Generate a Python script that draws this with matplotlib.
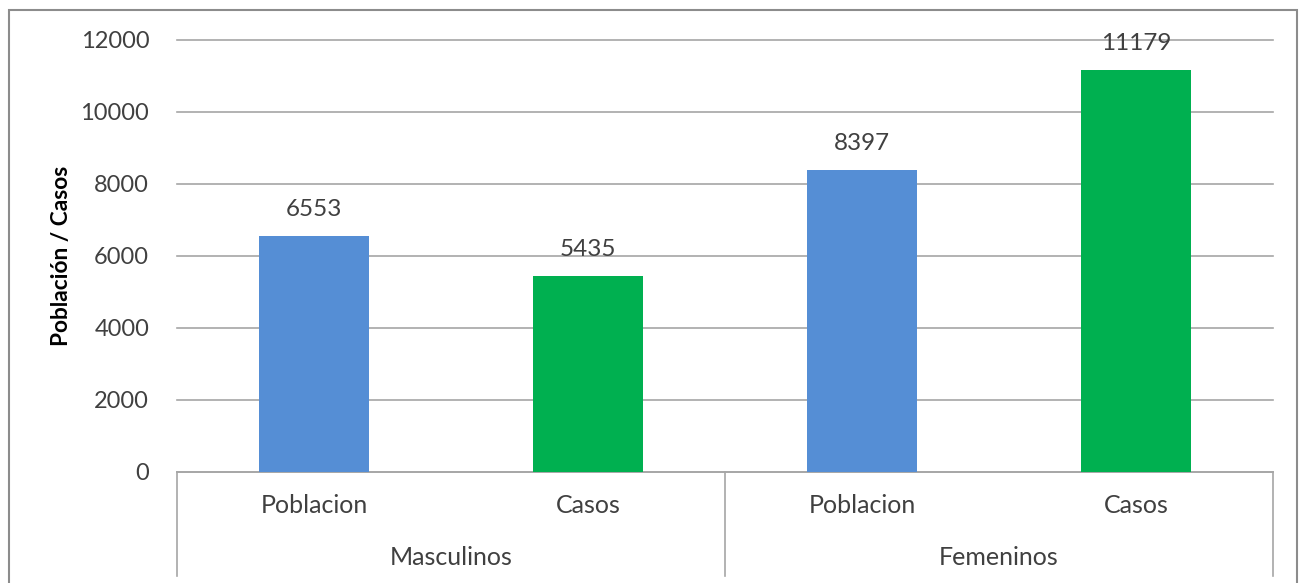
import matplotlib.pyplot as plt
from matplotlib.patches import Rectangle

# Datos
grupos = ['Masculinos', 'Femeninos']
categorias = ['Poblacion', 'Casos', 'Poblacion', 'Casos']
valores = [6553, 5435, 8397, 11179]
colores = ['#558ED5', '#00B050', '#558ED5', '#00B050']
yticks = [0, 2000, 4000, 6000, 8000, 10000, 12000]

plt.rcParams['font.family'] = ['Lato', 'DejaVu Sans']

fig = plt.figure(figsize=(12.99, 5.83), dpi=100)
ax = fig.add_axes([177 / 1299, 1 - 472 / 583, (1273 - 177) / 1299, 432 / 583])

x = list(range(len(valores)))
ax.bar(x, valores, width=0.405, color=colores, zorder=3)
for xi, v in zip(x, valores):
    ax.annotate(str(v), (xi, v), xytext=(0, 19), textcoords='offset points',
                ha='center', va='center', fontsize=17.5, color='#404040')

ax.set_xlim(-0.5, len(valores) - 0.5)
ax.set_ylim(0, 12000)
ax.set_yticks(yticks)
ax.set_yticklabels([str(t) for t in yticks], fontsize=17, color='#404040')
ax.yaxis.grid(True, color='#A6A6A6', linewidth=1.2, zorder=0)
for gl in ax.get_ygridlines():
    gl.set_clip_on(False)
ax.tick_params(axis='y', length=0, pad=20)
ax.tick_params(axis='x', length=0)
ax.set_xticks([])
for s in ['top', 'right', 'left']:
    ax.spines[s].set_visible(False)
ax.spines['bottom'].set_color('#A6A6A6')
ax.spines['bottom'].set_linewidth(1.2)

ax.set_ylabel('Población / Casos', fontsize=16.3, fontweight='bold', labelpad=6)

# Etiquetas de categoría
for xi, c in zip(x, categorias):
    ax.text(xi, -0.078, c, transform=ax.get_xaxis_transform(), ha='center', va='center',
            fontsize=18, color='#404040')
for i, g in enumerate(grupos):
    ax.text(2 * i + 0.5, -0.198, g, transform=ax.get_xaxis_transform(), ha='center',
            va='center', fontsize=18, color='#404040')
for xs in [-0.5, 1.5, 3.5]:
    ax.plot([xs, xs], [0, -0.24], transform=ax.get_xaxis_transform(), color='#A6A6A6',
            linewidth=1.2, clip_on=False)

# Borde exterior
fig.patches.append(Rectangle((9 / 1299, -0.05), 1288 / 1299, 1.05 - 10 / 583,
                             transform=fig.transFigure, fill=False,
                             edgecolor='#8C8C8C', linewidth=1.5))

fig.savefig('out.png', dpi=100)
